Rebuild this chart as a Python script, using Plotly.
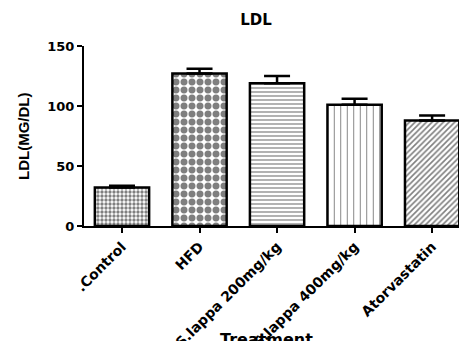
import plotly.graph_objects as go

categories = [".Control", "HFD", "S.lappa 200mg/kg", "S.lappa 400mg/kg", "Atorvastatin"]
ldl_mean = [32, 127, 119, 101, 88]
ldl_sem = [1.5, 4, 6, 5, 4]
y_ticks = [0, 50, 100, 150]

patterns = [
    dict(shape=".", size=4, solidity=0.55, fgcolor="black", bgcolor="white"),
    dict(shape=".", size=8, solidity=0.6, fgcolor="black", bgcolor="white"),
    dict(shape="-", size=4, solidity=0.3, fgcolor="black", bgcolor="white"),
    dict(shape="|", size=6.5, solidity=0.15, fgcolor="black", bgcolor="white"),
    dict(shape="/", size=4, solidity=0.4, fgcolor="black", bgcolor="white"),
]

sans = "Liberation Sans, Arial, sans-serif"
wide = "DejaVu Sans, sans-serif"

# the page body has an 8px margin, so the figure is laid out 8px up/left of window coordinates
OFF = 8
W, H = 467, 341
L, T, PB = 84 - OFF, 46 - OFF, 226 - OFF
PW, PH = W - OFF - L, PB - T

fig = go.Figure()
for i, c in enumerate(categories):
    fig.add_trace(go.Bar(
        x=[c], y=[ldl_mean[i]],
        width=0.7,
        marker=dict(color="white", pattern=patterns[i], line=dict(color="black", width=2.5)),
        error_y=dict(type="data", symmetric=False, array=[ldl_sem[i]], arrayminus=[0],
                     color="black", thickness=2.5, width=13),
        showlegend=False,
    ))

fig.update_layout(
    width=W, height=H,
    margin=dict(l=L, r=OFF, t=T, b=H - PB),
    plot_bgcolor="white", paper_bgcolor="white",
    font=dict(family=wide, size=13, color="black", weight="bold"),
    title=dict(text="LDL", x=(256 - OFF) / W, xanchor="center", y=1 - (20 - OFF) / H, yanchor="middle",
               font=dict(size=15, family=wide, color="black", weight="bold")),
    xaxis=dict(
        range=[-0.49, 4.45], automargin=False,
        showline=True, linecolor="black", linewidth=2,
        ticks="outside", ticklen=5, tickwidth=2, tickcolor="black",
        tickangle=-45, tickfont=dict(size=14, family=wide, weight="bold"),
        showgrid=False, zeroline=False,
    ),
    yaxis=dict(
        range=[0, 150], tickvals=y_ticks, automargin=False,
        showline=True, linecolor="black", linewidth=2,
        ticks="outside", ticklen=5, tickwidth=2, tickcolor="black",
        tickfont=dict(size=13, family=wide, weight="bold"),
        showgrid=False, zeroline=False,
    ),
    annotations=[
        dict(text="Treatment", xref="paper", yref="paper",
             x=(266 - OFF - L) / PW, y=(PB - (328 - OFF)) / PH,
             xanchor="center", yanchor="top", showarrow=False,
             font=dict(size=16, family=wide, weight="bold")),
        dict(text="LDL(MG/DL)", xref="paper", yref="paper",
             x=(23 - OFF - L) / PW, y=(PB - (137 - OFF)) / PH,
             xanchor="center", yanchor="middle", showarrow=False, textangle=-90,
             font=dict(size=15, family=sans, weight="bold")),
    ],
)

fig.write_html("out.html")
